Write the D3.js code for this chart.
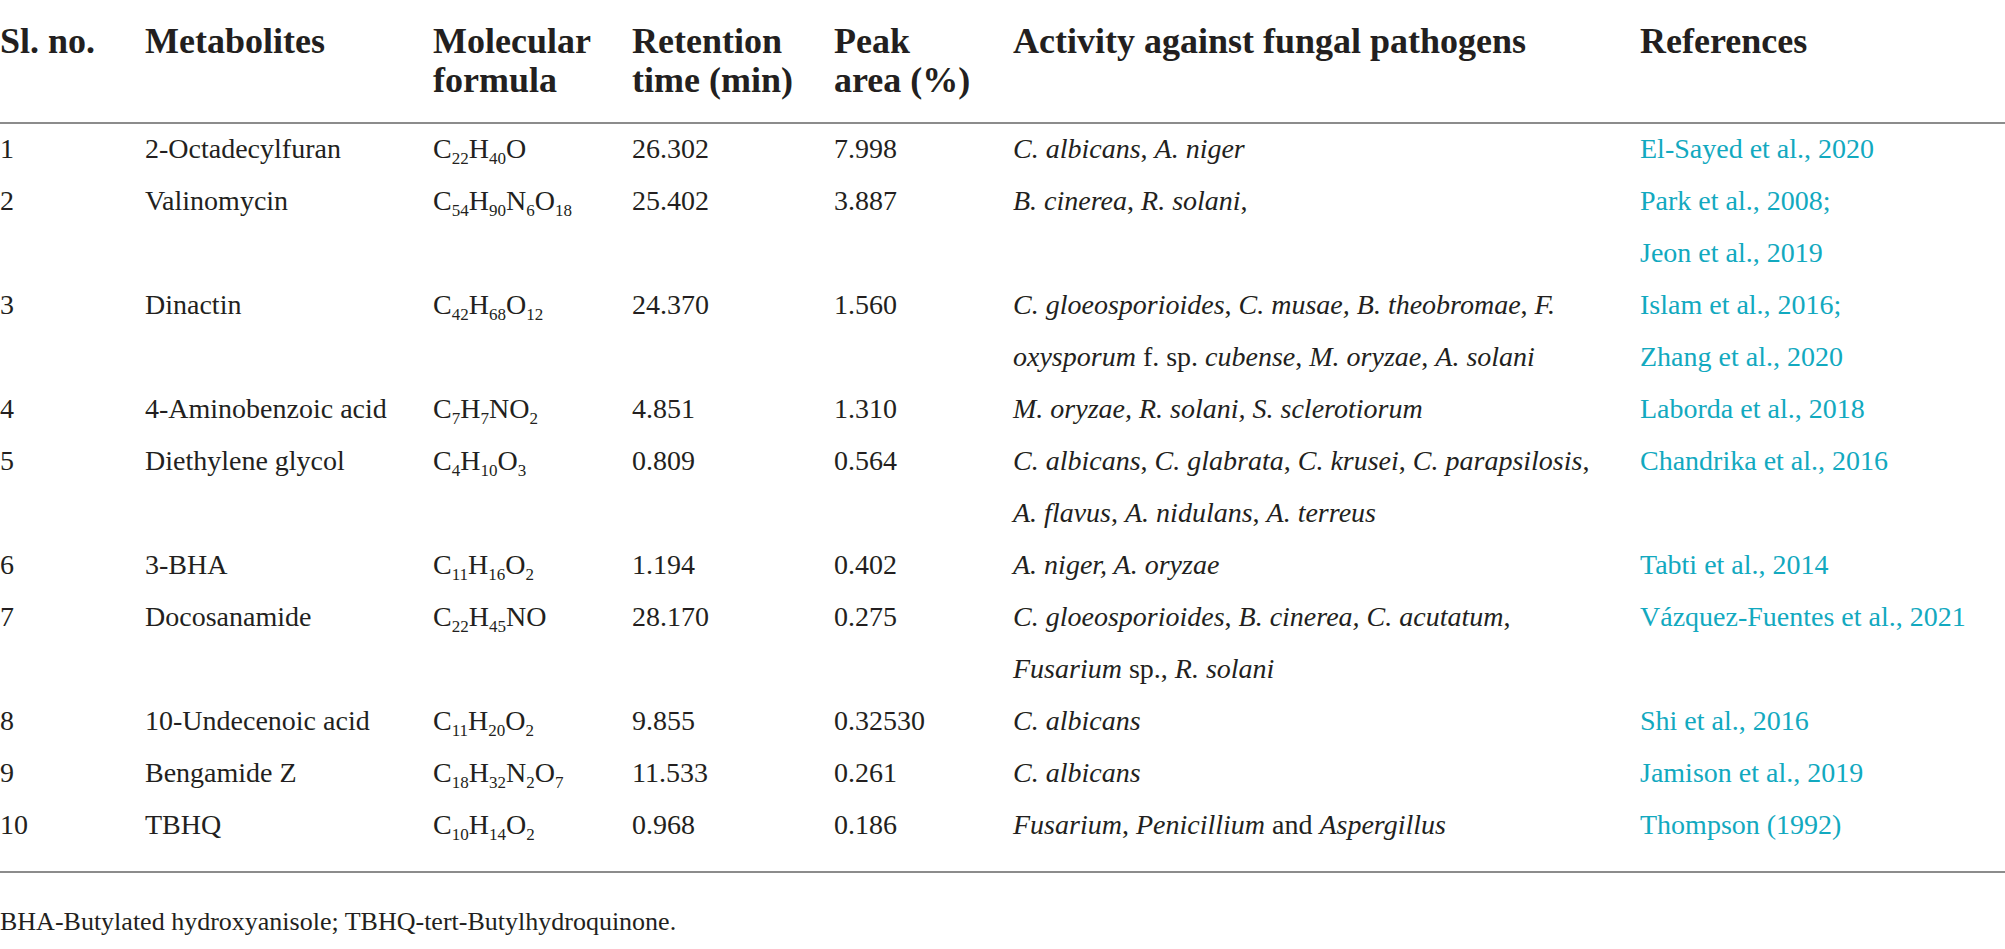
<!DOCTYPE html>
<html>
<head>
<meta charset="utf-8">
<script src="https://cdn.jsdelivr.net/npm/d3@7"></script>
<style>
  body { margin: 0; background: #fff; }
  svg { display: block; }
</style>
</head>
<body>
<script>
// table values
var headers = [["Sl. no."], ["Metabolites"], ["Molecular", "formula"], ["Retention", "time (min)"],
               ["Peak", "area (%)"], ["Activity against fungal pathogens"], ["References"]];
var slNo = ["1", "2", "3", "4", "5", "6", "7", "8", "9", "10"];
var metabolites = ["2-Octadecylfuran", "Valinomycin", "Dinactin", "4-Aminobenzoic acid", "Diethylene glycol",
                   "3-BHA", "Docosanamide", "10-Undecenoic acid", "Bengamide Z", "TBHQ"];
var formulas = ["C22H40O", "C54H90N6O18", "C42H68O12", "C7H7NO2", "C4H10O3",
                "C11H16O2", "C22H45NO", "C11H20O2", "C18H32N2O7", "C10H14O2"];
var retention = ["26.302", "25.402", "24.370", "4.851", "0.809", "1.194", "28.170", "9.855", "11.533", "0.968"];
var peakArea = ["7.998", "3.887", "1.560", "1.310", "0.564", "0.402", "0.275", "0.32530", "0.261", "0.186"];
// *...* = italic
var activity = [
  ["*C. albicans*, *A. niger*"],
  ["*B. cinerea*, *R. solani*,"],
  ["*C. gloeosporioides*, *C. musae, B. theobromae*, *F.*", "*oxysporum* f. sp. *cubense*, *M. oryzae*, *A. solani*"],
  ["*M. oryzae, R. solani, S. sclerotiorum*"],
  ["*C. albicans*, *C. glabrata*, *C. krusei*, *C. parapsilosis*,", "*A. flavus*, *A. nidulans*, *A. terreus*"],
  ["*A. niger, A. oryzae*"],
  ["*C. gloeosporioides*, *B. cinerea, C. acutatum*,", "*Fusarium* sp., *R. solani*"],
  ["*C. albicans*"],
  ["*C. albicans*"],
  ["*Fusarium*, *Penicillium* and *Aspergillus*"]
];
var references = [
  ["El-Sayed et al., 2020"],
  ["Park et al., 2008;", "Jeon et al., 2019"],
  ["Islam et al., 2016;", "Zhang et al., 2020"],
  ["Laborda et al., 2018"],
  ["Chandrika et al., 2016"],
  ["Tabti et al., 2014"],
  ["Vázquez-Fuentes et al., 2021"],
  ["Shi et al., 2016"],
  ["Jamison et al., 2019"],
  ["Thompson (1992)"]
];
var footnote = "BHA-Butylated hydroxyanisole; TBHQ-tert-Butylhydroquinone.";

var W = 2005, H = 949;
var font = "'Liberation Serif', 'Times New Roman', serif";
var ink = "#231f20";
var teal = "#12a9bf";

var svg = d3.select("body").append("svg").attr("width", W).attr("height", H);
svg.append("rect").attr("width", W).attr("height", H).attr("fill", "#fff");

var cols = ["sl", "met", "formula", "ret", "peak", "act", "ref"];
var x = d3.scaleOrdinal().domain(cols).range([0, 145, 433, 632, 834, 1013, 1640]);
// line index -> baseline
var y = d3.scaleLinear().domain([0, 1]).range([158, 210]);

// header
headers.forEach(function(h, i) {
  h.forEach(function(line, j) {
    svg.append("text")
      .attr("x", x(cols[i]))
      .attr("y", 53 + j * 39)
      .attr("font-family", font)
      .attr("font-weight", "bold")
      .attr("font-size", 36)
      .attr("fill", ink)
      .text(line);
  });
});

svg.append("line").attr("x1", 0).attr("x2", W).attr("y1", 123).attr("y2", 123)
  .attr("stroke", "#8c8c8c").attr("stroke-width", 2);
svg.append("line").attr("x1", 0).attr("x2", W).attr("y1", 872).attr("y2", 872)
  .attr("stroke", "#8c8c8c").attr("stroke-width", 2);

function plain(col, lineIdx, str, color) {
  return svg.append("text")
    .attr("x", x(col)).attr("y", y(lineIdx))
    .attr("font-family", font).attr("font-size", 28)
    .attr("fill", color || ink)
    .text(str);
}

function italicText(col, lineIdx, str) {
  var t = svg.append("text")
    .attr("x", x(col)).attr("y", y(lineIdx))
    .attr("font-family", font).attr("font-size", 28)
    .attr("fill", ink);
  str.split("*").forEach(function(seg, k) {
    if (seg === "") return;
    t.append("tspan").attr("font-style", k % 2 ? "italic" : "normal").text(seg);
  });
}

function formulaText(col, lineIdx, str) {
  var t = svg.append("text")
    .attr("x", x(col)).attr("y", y(lineIdx))
    .attr("font-family", font).attr("font-size", 28)
    .attr("fill", ink);
  var down = false;
  str.split(/(\d+)/).forEach(function(seg) {
    if (seg === "") return;
    var isNum = /^\d+$/.test(seg);
    var sp = t.append("tspan").text(seg);
    if (isNum) {
      sp.attr("font-size", 17).attr("dy", down ? 0 : 6);
      down = true;
    } else {
      sp.attr("dy", down ? -6 : 0);
      down = false;
    }
  });
}

var line = 0;
slNo.forEach(function(s, i) {
  plain("sl", line, s);
  plain("met", line, metabolites[i]);
  formulaText("formula", line, formulas[i]);
  plain("ret", line, retention[i]);
  plain("peak", line, peakArea[i]);
  activity[i].forEach(function(a, j) { italicText("act", line + j, a); });
  references[i].forEach(function(r, j) { plain("ref", line + j, r, teal); });
  line += Math.max(activity[i].length, references[i].length);
});

svg.append("text")
  .attr("x", 0).attr("y", 930)
  .attr("font-family", font).attr("font-size", 26)
  .attr("fill", ink)
  .text(footnote);
</script>
</body>
</html>
